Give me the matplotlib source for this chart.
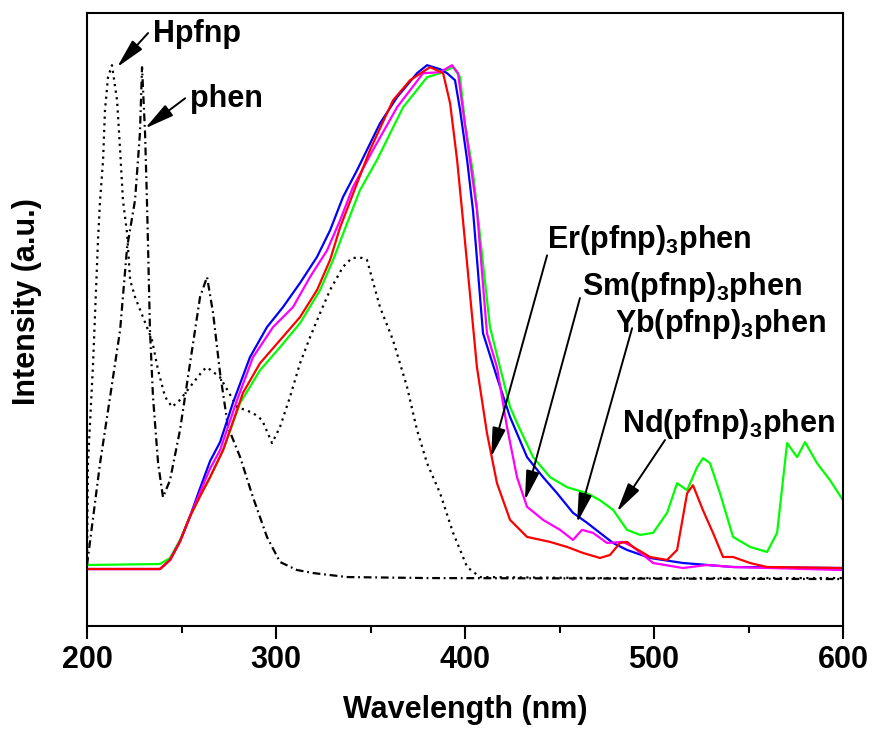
import numpy as np
import matplotlib
matplotlib.use('Agg')
import matplotlib.pyplot as plt

plt.rcParams['font.family'] = ['Liberation Sans', 'DejaVu Sans']
plt.rcParams['font.weight'] = 'bold'
plt.rcParams['mathtext.default'] = 'regular'

# absorption spectra (wavelength in nm, intensity in a.u.)
hpfnp_wl = np.array([200, 200.5, 203.2, 205.8, 206.9, 208.5, 209.5, 211.1, 213.2, 215.9,
                     217.5, 219.0, 221.2, 222.8, 225.4, 229.6, 234.4, 237.6, 241.3, 245.0,
                     249.2, 254.5, 261.4, 263.5, 270.4, 279.4, 287.8, 292.6, 297.9, 302.1,
                     307.4, 312.7, 318.0, 323.3, 328.6, 335.4, 340.2, 345.5, 348.1, 355.0,
                     361.9, 369.3, 374.6, 379.9, 386.8, 393.7, 401.1, 407.9, 471.4, 600])
hpfnp_int = np.array([0.008, 0.211, 0.410, 0.655, 0.735, 0.815, 0.914, 0.980, 1.004, 0.934,
                      0.835, 0.735, 0.669, 0.576, 0.542, 0.502, 0.456, 0.396, 0.343, 0.323,
                      0.337, 0.363, 0.396, 0.402, 0.382, 0.323, 0.311, 0.297, 0.251, 0.283,
                      0.343, 0.410, 0.462, 0.510, 0.556, 0.602, 0.620, 0.620, 0.616, 0.522,
                      0.456, 0.363, 0.277, 0.211, 0.151, 0.072, 0.004, -0.016, -0.018, -0.018])

phen_wl = np.array([200, 206.9, 212.2, 217.5, 221.2, 225.4, 228.0, 229.1, 230.7, 231.7,
                    232.3, 233.3, 234.9, 237.6, 240.2, 243.9, 249.2, 254.5, 259.8, 263.5,
                    266.7, 270.4, 274.6, 281.0, 287.8, 295.2, 302.1, 311.1, 319.6, 337.6,
                    379.9, 600])
phen_int = np.array([0.008, 0.211, 0.343, 0.476, 0.641, 0.735, 0.869, 1.0, 0.869, 0.735,
                     0.641, 0.476, 0.343, 0.211, 0.143, 0.177, 0.277, 0.410, 0.542, 0.582,
                     0.510, 0.390, 0.283, 0.223, 0.143, 0.064, 0.014, -0.002, -0.008, -0.016,
                     -0.018, -0.020])

yb_wl = np.array([200, 238.6, 243.9, 249.2, 254.5, 259.8, 265.1, 270.4, 277.2, 286.2,
                  295.2, 303.7, 312.7, 321.7, 328.6, 335.4, 342.9, 348.1, 355.0, 364.0,
                  374.6, 379.9, 386.8, 390.5, 394.7, 397.4, 401.1, 404.2, 409.5, 416.9,
                  423.8, 432.8, 441.3, 448.7, 457.1, 464.6, 471.4, 478.3, 485.7, 497.9,
                  515.3, 541.8, 600])
yb_int = np.array([0, 0, 0.018, 0.055, 0.105, 0.161, 0.215, 0.253, 0.331, 0.422,
                   0.482, 0.522, 0.570, 0.622, 0.675, 0.741, 0.795, 0.835, 0.888, 0.940,
                   0.988, 1.004, 0.996, 0.988, 0.974, 0.914, 0.815, 0.715, 0.470, 0.382,
                   0.303, 0.223, 0.183, 0.151, 0.112, 0.092, 0.072, 0.052, 0.038, 0.022,
                   0.012, 0.004, 0.002])

er_wl = np.array([200, 238.6, 243.9, 249.2, 254.5, 259.8, 265.1, 272.0, 282.5, 291.5,
                  302.1, 312.7, 321.7, 328.6, 333.9, 342.9, 349.7, 361.9, 370.9, 381.5,
                  388.4, 392.1, 395.8, 398.4, 406.3, 411.6, 416.9, 423.8, 432.8, 445.0,
                  454.0, 462.4, 471.4, 476.7, 482.0, 485.7, 488.9, 497.9, 506.9, 512.2,
                  517.5, 520.6, 525.9, 531.2, 536.5, 541.8, 550.8, 559.8, 600])
er_int = np.array([0, 0, 0.018, 0.055, 0.105, 0.145, 0.183, 0.237, 0.351, 0.410,
                   0.456, 0.502, 0.556, 0.616, 0.681, 0.769, 0.835, 0.934, 0.974, 1.0,
                   0.988, 0.928, 0.815, 0.715, 0.402, 0.271, 0.171, 0.098, 0.064, 0.054,
                   0.044, 0.032, 0.022, 0.028, 0.052, 0.054, 0.044, 0.024, 0.018, 0.038,
                   0.151, 0.167, 0.117, 0.072, 0.024, 0.024, 0.012, 0.004, 0.002])

sm_wl = np.array([200, 238.6, 243.9, 249.2, 254.5, 259.8, 265.1, 270.4, 279.4, 287.8,
                  298.4, 309.0, 318.0, 327.0, 333.9, 340.7, 351.3, 364.0, 377.8, 386.8,
                  393.1, 396.3, 398.9, 402.6, 406.3, 411.6, 416.9, 422.2, 427.5, 432.8,
                  441.3, 450.3, 457.1, 461.9, 467.7, 475.1, 483.6, 488.9, 499.5, 515.3,
                  528.0, 541.8, 600])
sm_int = np.array([0, 0, 0.018, 0.055, 0.105, 0.153, 0.200, 0.237, 0.337, 0.422,
                   0.482, 0.522, 0.582, 0.635, 0.695, 0.761, 0.835, 0.920, 0.988, 0.990,
                   1.004, 0.988, 0.914, 0.815, 0.715, 0.470, 0.402, 0.283, 0.183, 0.124,
                   0.098, 0.078, 0.058, 0.078, 0.072, 0.052, 0.054, 0.044, 0.012, 0.002,
                   0.008, 0.004, -0.002])

nd_wl = np.array([200, 238.6, 243.9, 249.2, 254.5, 259.8, 265.1, 272.0, 281.0, 291.5,
                  302.1, 312.7, 323.3, 330.2, 337.6, 344.4, 353.4, 367.2, 379.9, 386.8,
                  393.7, 397.4, 400.0, 404.2, 406.3, 413.2, 418.5, 423.8, 427.5, 436.0,
                  445.0, 454.0, 464.6, 471.4, 478.3, 485.7, 492.6, 499.5, 506.9, 512.2,
                  517.5, 522.8, 525.9, 529.6, 534.9, 541.8, 550.8, 559.8, 565.1, 570.4,
                  575.7, 579.9, 586.2, 593.1, 600])
nd_int = np.array([0.008, 0.010, 0.022, 0.058, 0.105, 0.145, 0.183, 0.237, 0.331, 0.396,
                   0.442, 0.490, 0.556, 0.616, 0.689, 0.755, 0.815, 0.920, 0.980, 0.988,
                   1.0, 0.980, 0.888, 0.790, 0.720, 0.482, 0.402, 0.323, 0.291, 0.223,
                   0.183, 0.163, 0.151, 0.137, 0.118, 0.078, 0.068, 0.072, 0.112, 0.171,
                   0.157, 0.203, 0.221, 0.211, 0.151, 0.064, 0.044, 0.034, 0.072, 0.251,
                   0.223, 0.253, 0.211, 0.177, 0.137])

fig = plt.figure(figsize=(8.72, 7.33), dpi=100)
ax = fig.add_axes([0.0998, 0.146, 0.867, 0.836])

ax.plot(hpfnp_wl, hpfnp_int, color='k', lw=1.6, ls=(0, (1, 2)))
ax.plot(phen_wl, phen_int, color='k', lw=1.6, ls=(0, (3.5, 1.7, 0.8, 1.7)))
ax.plot(nd_wl, nd_int, color='#00ff00', lw=1.6)
ax.plot(yb_wl, yb_int, color='#0000ff', lw=1.6)
ax.plot(sm_wl, sm_int, color='#ff00ff', lw=1.6)
ax.plot(er_wl, er_int, color='#ff0000', lw=1.6)

ax.set_xlim(200, 600)
ax.set_ylim(-0.1135, 1.1076)
ax.set_xticks([200, 300, 400, 500, 600])
ax.set_xticks([250, 350, 450, 550], minor=True)
ax.set_yticks([])
ax.tick_params(axis='x', which='major', direction='out', length=9, width=1.5,
               labelsize=22, pad=5)
ax.tick_params(axis='x', which='minor', direction='out', length=5, width=1.5)
for s in ax.spines.values():
    s.set_linewidth(1.5)

ax.set_xlabel('Wavelength (nm)', fontsize=22, fontweight='bold', labelpad=14)
ax.set_ylabel('Intensity (a.u.)', fontsize=22, fontweight='bold', labelpad=22)
ax.yaxis.set_label_coords(-0.06, 0.53)

# labels and arrows
arrow = dict(arrowstyle='-|>,head_length=0.75,head_width=0.17', color='k', lw=1.4,
             shrinkA=0, shrinkB=0, mutation_scale=24)
labels = [
    ('Hpfnp', (234.9, 1.050), (232.3, 1.068), (215.9, 1.0)),
    ('phen', (254.5, 0.920), (251.9, 0.938), (230.7, 0.878)),
    ('Er(pfnp)$_3$phen', (443.4, 0.639), (443.4, 0.625), (413.8, 0.223)),
    ('Sm(pfnp)$_3$phen', (461.9, 0.546), (460.8, 0.540), (431.7, 0.137)),
    ('Yb(pfnp)$_3$phen', (479.4, 0.472), (488.4, 0.480), (459.3, 0.092)),
    ('Nd(pfnp)$_3$phen', (483.1, 0.273), (505.8, 0.257), (480.4, 0.114)),
]
for txt, pos, start, tip in labels:
    ax.text(pos[0], pos[1], txt, fontsize=22, fontweight='bold', ha='left', va='baseline')
    ax.annotate('', xy=tip, xytext=start, arrowprops=arrow)

fig.savefig('out.png', dpi=100)
